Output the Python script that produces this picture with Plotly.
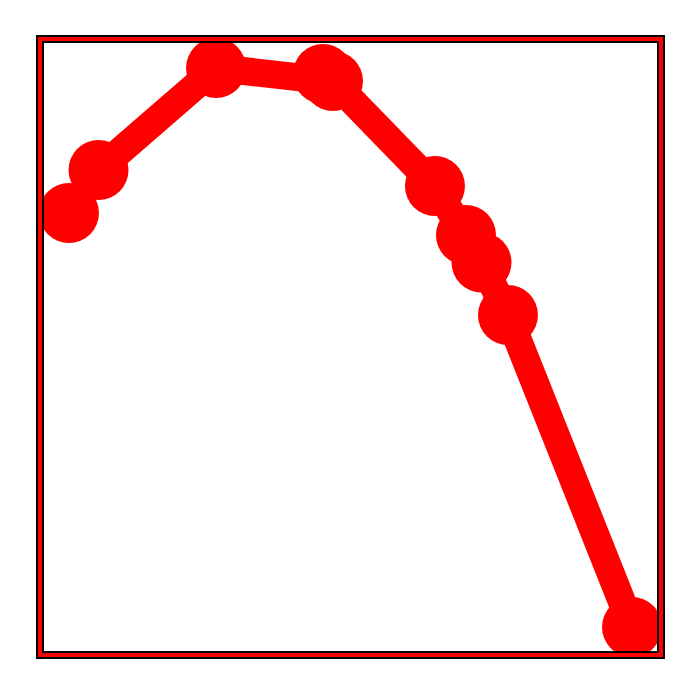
import plotly.graph_objects as go

# Data (arbitrary units on 0-100 axes)
x_values = [4.23, 9.04, 28.18, 45.60, 47.23, 63.84, 68.89, 71.42, 75.73, 95.93]
y_values = [72.04, 79.11, 95.89, 94.90, 93.75, 76.48, 68.42, 63.90, 55.26, 3.95]

OFF = 8  # page body margin in the browser
W, H = 700 - OFF, 696 - OFF
L, R, T, B = 43 - OFF, 43, 43 - OFF, 45
PW, PH = W - L - R, H - T - B


def px_x(px):
    return (px - OFF - L) / PW


def px_y(py):
    return (H - B - (py - OFF)) / PH


fig = go.Figure()
fig.add_trace(go.Scatter(
    x=x_values, y=y_values, mode="lines+markers",
    line=dict(color="#ff0000", width=28),
    marker=dict(color="#ff0000", size=60, line=dict(width=0)),
    cliponaxis=True, hoverinfo="skip", showlegend=False,
))

frames = [
    # (x0, y0, x1, y1, color, width) in page pixels
    (37, 36, 664, 658, "#000000", 2),
    (40, 39, 661, 655, "#ff0000", 4),
    (43, 42, 658, 652, "#000000", 2),
]
shapes = []
for x0, y0, x1, y1, col, w in frames:
    shapes.append(dict(
        type="rect", xref="paper", yref="paper",
        x0=px_x(x0), x1=px_x(x1), y0=px_y(y1), y1=px_y(y0),
        line=dict(color=col, width=w), fillcolor="rgba(0,0,0,0)", layer="above",
    ))

axis = dict(showgrid=False, zeroline=False, showticklabels=False, ticks="",
            showline=False, range=[0, 100], fixedrange=True)
fig.update_layout(
    width=W, height=H, margin=dict(l=L, r=R, t=T, b=B, pad=0),
    paper_bgcolor="white", plot_bgcolor="white",
    xaxis=axis, yaxis=axis, shapes=shapes,
)
fig.write_html("out.html")
